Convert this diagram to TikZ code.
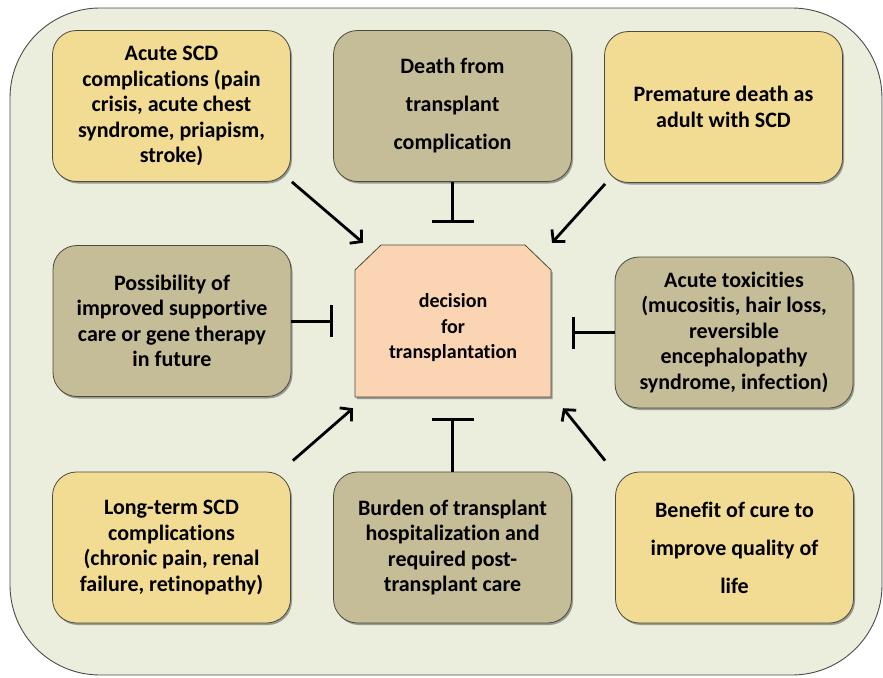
\documentclass[tikz,border=0pt]{standalone}
\usepackage{fontspec}
\setmainfont[Ligatures=NoCommon]{Carlito}
\usetikzlibrary{arrows.meta,calc,shadows}
\definecolor{bgc}{HTML}{EBEEDC}
\definecolor{yel}{HTML}{F2DB93}
\definecolor{tan}{HTML}{C4BD97}
\definecolor{peach}{HTML}{FBD4B4}
\definecolor{edge}{HTML}{4A4A40}
\begin{document}
\begin{tikzpicture}[x=1pt,y=-1pt,
  box/.style={draw=edge, line width=0.8pt, rounded corners=24pt, align=center,
    minimum width=238pt, minimum height=151pt, inner sep=2pt,
    font=\fontsize{22}{25.5}\selectfont\bfseries,
    drop shadow={shadow xshift=1.5pt, shadow yshift=-2pt, opacity=0.35, fill=black}},
  wide/.style={font=\fontsize{22}{38}\selectfont\bfseries},
  ybox/.style={box, fill=yel},
  tbox/.style={box, fill=tan},
  arr/.style={line width=2.8pt, -{Straight Barb[length=8pt,width=18pt]}},
  tee/.style={line width=3pt, -{Bar[width=42pt]}},
]
\useasboundingbox (0,0) rectangle (883,677);
\draw[fill=bgc, draw=gray!60!black, line width=0.9pt, rounded corners=90pt] (10,8) rectangle (882,675);

\node[ybox] (tl) at (171.5,106) {Acute SCD\\complications (pain\\crisis, acute chest\\syndrome, priapism,\\stroke)};
\node[tbox, wide] (tm) at (452.5,106) {Death from\\transplant\\complication};
\node[ybox] (tr) at (723.5,107) {Premature death as\\adult with SCD};
\node[tbox] (ml) at (172,321) {Possibility of\\improved supportive\\care or gene therapy\\in future};
\node[tbox] (mr) at (734,332.5) {Acute toxicities\\(mucositis, hair loss,\\reversible\\encephalopathy\\syndrome, infection)};
\node[ybox] (bl) at (171.5,547.5) {Long-term SCD\\complications\\(chronic pain, renal\\failure, retinopathy)};
\node[tbox] (bm) at (452.5,547.5) {Burden of transplant\\hospitalization and\\required post-\\transplant care};
\node[ybox, wide] (br) at (734.5,547.5) {Benefit of cure to\\improve quality of\\life};

\filldraw[draw=edge, line width=0.8pt, fill=peach,
  drop shadow={shadow xshift=1.5pt, shadow yshift=-2pt, opacity=0.35, fill=black}]
  (355,270) -- (381,245) -- (525,245) -- (551,270) -- (551,397) -- (355,397) -- cycle;
\node[align=center, inner sep=0pt, minimum width=196pt, minimum height=152pt,
  font=\fontsize{20}{25.5}\selectfont\bfseries] (ctr) at (453,321) {};
\node[align=center, inner sep=0pt, font=\fontsize{20}{25.5}\selectfont\bfseries]
  (ctrtext) at (453,328) {decision\\for\\transplantation};

\draw[arr] ($(tl.south east)+(1,0)$) -- ($(ctr.north)+(-90,-2)$);
\draw[arr] ($(tr.south west)+(1,1)$) -- ($(ctr.north)+(99,-2)$);
\draw[arr] ($(bl.north east)+(2,-11)$) -- ($(ctr.south)+(-100,11)$);
\draw[arr] ($(br.north west)+(-10,-11)$) -- ($(ctr.south)+(110,11)$);

\draw[tee] (tm.south) -- ($(tm.south)+(0,41)$);
\draw[tee] (bm.north) -- ($(bm.north)+(0,-54)$);
\draw[tee, -{Bar[width=32pt]}] (ml.east) -- ($(ml.east)+(42,0)$);
\draw[tee, -{Bar[width=32pt]}] (mr.west) -- ($(mr.west)+(-43,0)$);
\end{tikzpicture}
\end{document}
